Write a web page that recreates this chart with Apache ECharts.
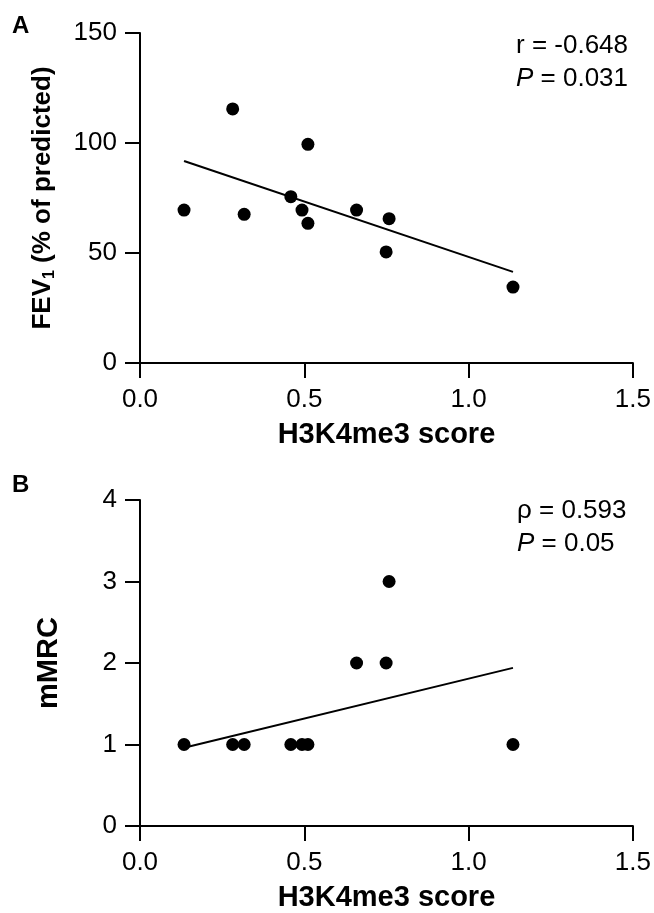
<!DOCTYPE html>
<html>
<head>
<meta charset="utf-8">
<script src="https://cdn.jsdelivr.net/npm/echarts@6/dist/echarts.min.js"></script>
<style>
  html, body { margin: 0; padding: 0; background: #fff; }
  #chart { width: 654px; height: 913px; }
</style>
</head>
<body>
<div id="chart"></div>
<script>
// H3K4me3 score per patient (same patients in both panels)
const scoreA = [0.134, 0.282, 0.317, 0.459, 0.493, 0.511, 0.511, 0.659, 0.749, 0.758, 1.135];
const fev1 = [69.5, 115.5, 67.6, 75.6, 69.5, 99.4, 63.5, 69.5, 50.5, 65.6, 34.5];

const scoreB = [0.134, 0.282, 0.317, 0.459, 0.493, 0.511, 0.659, 0.749, 0.758, 1.135];
const mmrc = [1, 1, 1, 1, 1, 1, 2, 2, 3, 1];

// regression line end points
const fitA = [[0.134, 91.8], [1.135, 41.4]];
const fitB = [[0.134, 0.96], [1.135, 1.94]];

const xTicks = [0, 0.5, 1.0, 1.5];
const statsA = ["r = -0.648", "0.031"];
const statsB = ["\u03c1 = 0.593", "0.05"];

const FONT = "'Liberation Sans', Arial, sans-serif";
const INK = "#000";

function xAxisFor(gridIndex) {
  return {
    gridIndex,
    type: "value",
    min: xTicks[0],
    max: xTicks[xTicks.length - 1],
    interval: 0.5,
    name: "H3K4me3 score",
    nameLocation: "middle",
    nameGap: 57,
    nameTextStyle: { fontFamily: FONT, fontSize: 29, fontWeight: "bold", color: INK },
    axisLine: { lineStyle: { color: INK, width: 2 } },
    axisTick: { length: 15, lineStyle: { color: INK, width: 2 } },
    axisLabel: {
      margin: 24,
      fontFamily: FONT,
      fontSize: 26,
      color: INK,
      formatter: (v) => v.toFixed(1),
    },
    splitLine: { show: false },
  };
}

function yAxisFor(gridIndex, max, interval, name, gap, size, rich) {
  return {
    gridIndex,
    type: "value",
    min: 0,
    max,
    interval,
    name,
    nameLocation: "middle",
    nameRotate: 90,
    nameGap: gap,
    nameTextStyle: {
      fontFamily: FONT,
      fontSize: size,
      fontWeight: "bold",
      color: INK,
      rich,
    },
    axisLine: { lineStyle: { color: INK, width: 2 } },
    axisTick: { length: 15, lineStyle: { color: INK, width: 2 } },
    axisLabel: { margin: 23, fontFamily: FONT, fontSize: 26, color: INK },
    splitLine: { show: false },
  };
}

function statText(lines, left, top) {
  const rich = {
    t: { fontFamily: FONT, fontSize: 26, fill: INK, lineHeight: 33 },
    i: { fontFamily: FONT, fontSize: 26, fontStyle: "italic", fill: INK, lineHeight: 33 },
  };
  return {
    type: "text",
    left,
    top,
    style: {
      text: `{t|${lines[0]}}\n{i|P}{t| = ${lines[1]}}`,
      rich,
    },
  };
}

const chart = echarts.init(document.getElementById("chart"));

const option = {
  animation: false,
  grid: [
    { left: 140, top: 33, width: 493, height: 330 },
    { left: 140, top: 500, width: 493, height: 328 },
  ],
  xAxis: [xAxisFor(0), xAxisFor(1)],
  yAxis: [
    yAxisFor(0, 150, 50, "{b|FEV}{s|1}{b| (% of predicted)}", 82, 26, {
      b: { fontFamily: FONT, fontSize: 26, fontWeight: "bold", color: INK, lineHeight: 30 },
      s: {
        fontFamily: FONT,
        fontSize: 16,
        fontWeight: "bold",
        color: INK,
        lineHeight: 16,
        verticalAlign: "bottom",
      },
    }),
    yAxisFor(1, 4, 1, "mMRC", 77, 29),
  ],
  series: [
    {
      type: "scatter",
      xAxisIndex: 0,
      yAxisIndex: 0,
      data: scoreA.map((x, i) => [x, fev1[i]]),
      symbolSize: 13,
      itemStyle: { color: INK, opacity: 1 },
    },
    {
      type: "line",
      xAxisIndex: 0,
      yAxisIndex: 0,
      data: fitA,
      symbol: "none",
      lineStyle: { color: INK, width: 2 },
    },
    {
      type: "scatter",
      xAxisIndex: 1,
      yAxisIndex: 1,
      data: scoreB.map((x, i) => [x, mmrc[i]]),
      symbolSize: 13,
      itemStyle: { color: INK, opacity: 1 },
    },
    {
      type: "line",
      xAxisIndex: 1,
      yAxisIndex: 1,
      data: fitB,
      symbol: "none",
      lineStyle: { color: INK, width: 2 },
    },
  ],
  graphic: [
    {
      type: "text",
      left: 12,
      top: 14,
      style: { text: "A", fontFamily: FONT, fontSize: 24, fontWeight: "bold", fill: INK },
    },
    {
      type: "text",
      left: 12,
      top: 473,
      style: { text: "B", fontFamily: FONT, fontSize: 24, fontWeight: "bold", fill: INK },
    },
    statText(statsA, 516, 33),
    statText(statsB, 517, 498),
  ],
};

chart.setOption(option);
</script>
</body>
</html>
